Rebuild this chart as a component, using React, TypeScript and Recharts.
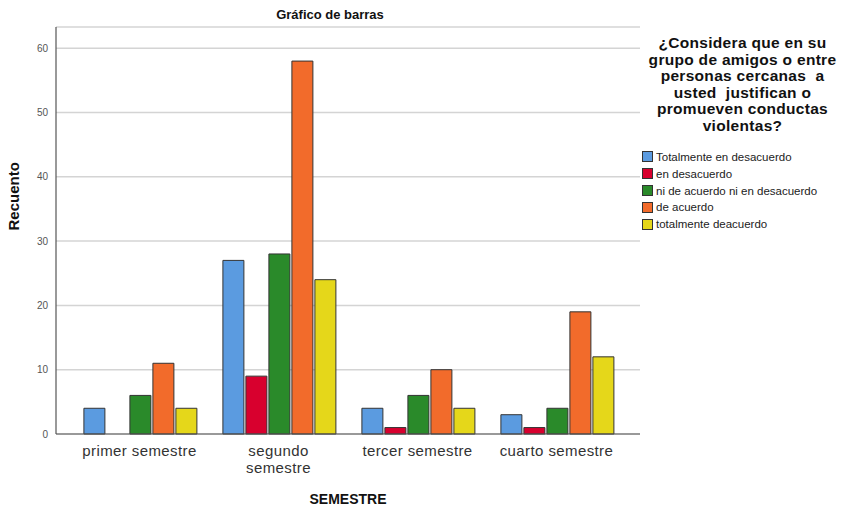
import React from "react";
import { BarChart, Bar, XAxis, YAxis, CartesianGrid } from "recharts";

const categories = ["primer semestre", "segundo semestre", "tercer semestre", "cuarto semestre"];
const tickLines = [["primer semestre"], ["segundo", "semestre"], ["tercer semestre"], ["cuarto semestre"]];

const totalmenteDesacuerdo = [4, 27, 4, 3];
const enDesacuerdo = [0, 9, 1, 1];
const niNi = [6, 28, 6, 4];
const deAcuerdo = [11, 58, 10, 19];
const totalmenteDeacuerdo = [4, 24, 4, 12];

const yTicks = [0, 10, 20, 30, 40, 50, 60];

const legendTitle = [
  "¿Considera que en su",
  "grupo de amigos o entre",
  "personas cercanas  a",
  "usted  justifican o",
  "promueven conductas",
  "violentas?",
];

const series = [
  { key: "td", name: "Totalmente en desacuerdo", color: "#5b9be0", values: totalmenteDesacuerdo },
  { key: "ed", name: "en desacuerdo", color: "#d8002e", values: enDesacuerdo },
  { key: "nn", name: "ni de acuerdo ni en desacuerdo", color: "#2a8a2a", values: niNi },
  { key: "da", name: "de acuerdo", color: "#f26b2b", values: deAcuerdo },
  { key: "tda", name: "totalmente deacuerdo", color: "#e5d71a", values: totalmenteDeacuerdo },
];

const data = categories.map((c, i) => {
  const row: any = { name: c };
  series.forEach((s) => (row[s.key] = s.values[i]));
  return row;
});

const font = "'Liberation Sans', Arial, sans-serif";

function XTick(props: any) {
  const { x, y, payload } = props;
  const lines = tickLines[payload.index] || [payload.value];
  return (
    <text x={x} y={y + 14} textAnchor="middle" fill="#333" fontSize={15} letterSpacing={0.4} fontFamily={font}>
      {lines.map((l, i) => (
        <tspan key={i} x={x} dy={i === 0 ? 0 : 17}>
          {l}
        </tspan>
      ))}
    </text>
  );
}

function LegendBox() {
  return (
    <div style={{ position: "absolute", left: 640, top: 35, width: 210, fontFamily: font }}>
      <div
        style={{
          textAlign: "center",
          fontWeight: "bold",
          fontSize: 15.5,
          letterSpacing: 0.3,
          lineHeight: "16.6px",
          color: "#111",
          whiteSpace: "pre",
          width: 205,
        }}
      >
        {legendTitle.join("\n")}
      </div>
      <div style={{ marginTop: 14, marginLeft: 2 }}>
        {series.map((s) => (
          <div key={s.key} style={{ display: "flex", alignItems: "center", height: 16.8 }}>
            <span
              style={{
                display: "inline-block",
                width: 11,
                height: 11,
                background: s.color,
                border: "1px solid #333",
                boxSizing: "border-box",
                marginRight: 3,
              }}
            />
            <span style={{ fontSize: 11.5, color: "#222" }}>{s.name}</span>
          </div>
        ))}
      </div>
    </div>
  );
}

export default function App() {
  return (
    <div style={{ position: "absolute", left: 0, top: 0, width: 850, height: 510, background: "#fff" }}>
      <BarChart
        width={850}
        height={510}
        data={data}
        margin={{ top: 27, right: 210, bottom: 26, left: 20 }}
        barCategoryGap="10%"
        barGap={2}
      >
        <text x={330} y={19} textAnchor="middle" fontSize={13} fontWeight="bold" fontFamily={font} fill="#111">
          Gráfico de barras
        </text>
        <CartesianGrid vertical={false} stroke="#d4d4d4" strokeWidth={1.5} />
        <XAxis
          dataKey="name"
          height={50}
          interval={0}
          tick={<XTick />}
          tickLine={false}
          axisLine={{ stroke: "#555", strokeWidth: 1.2 }}
          padding={{ left: 14, right: 14 }}
          label={{ value: "SEMESTRE", position: "insideBottom", offset: -20, fontSize: 14, fontWeight: "bold", fill: "#111", fontFamily: font }}
        />
        <YAxis
          width={36}
          domain={[0, 63.3]}
          ticks={yTicks}
          interval={0}
          tickLine={false}
          axisLine={{ stroke: "#555", strokeWidth: 1.2 }}
          tick={{ fontSize: 10, fill: "#555", fontFamily: font }}
          label={{ value: "Recuento", angle: -90, position: "insideLeft", offset: -6, fontSize: 15, fontWeight: "bold", fill: "#111", fontFamily: font }}
        />
        {series.map((s) => (
          <Bar
            key={s.key}
            dataKey={s.key}
            name={s.name}
            fill={s.color}
            stroke="#333"
            strokeWidth={1}
            isAnimationActive={false}
          />
        ))}
      </BarChart>
      <LegendBox />
    </div>
  );
}
